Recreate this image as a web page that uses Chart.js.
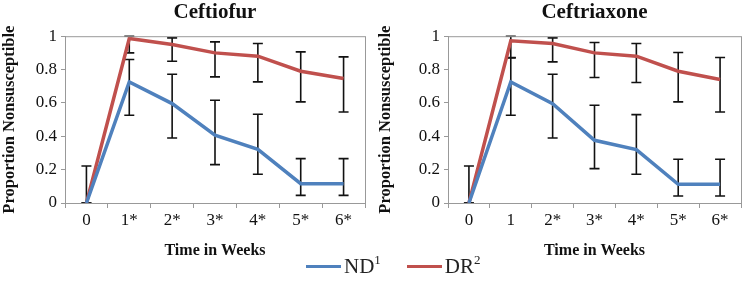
<!DOCTYPE html>
<html>
<head>
<meta charset="utf-8">
<script src="https://cdn.jsdelivr.net/npm/chart.js@4.4.0/dist/chart.umd.min.js"></script>
<style>
  body { margin: 0; background: #fff; width: 752px; height: 294px; overflow: hidden; position: relative; }
  canvas { position: absolute; top: 0; }
  #c1 { left: 0; }
  #c2 { left: 376px; }
  #legend { position: absolute; left: 306px; top: 254px; display: flex; align-items: center;
            font-family: 'Liberation Serif', 'Times New Roman', serif; font-size: 21px; color: #222; }
  #legend .item { display: flex; align-items: center; margin-right: 26px; }
  #legend .swatch { width: 35px; height: 3px; margin-right: 3px; }
  #legend sup { font-size: 13px; vertical-align: 9px; line-height: 0; }
</style>
</head>
<body>
<canvas id="c1" width="376" height="260"></canvas>
<canvas id="c2" width="376" height="260"></canvas>
<div id="legend"></div>
<script>
// Ceftiofur
const weeksA = ['0', '1*', '2*', '3*', '4*', '5*', '6*'];
const ndA = [0, 0.726, 0.596, 0.406, 0.322, 0.116, 0.116];
const ndA_lo = [0, 0.526, 0.39, 0.23, 0.172, 0.046, 0.046];
const ndA_hi = [0.222, 0.86, 0.772, 0.616, 0.532, 0.266, 0.266];
const drA = [0, 0.986, 0.95, 0.90, 0.88, 0.79, 0.746];
const drA_lo = [0, 0.90, 0.85, 0.756, 0.726, 0.606, 0.546];
const drA_hi = [0, 1.0, 0.99, 0.966, 0.956, 0.906, 0.876];

// Ceftriaxone
const weeksB = ['0', '1', '2*', '3*', '4*', '5*', '6*'];
const ndB = [0, 0.726, 0.596, 0.376, 0.32, 0.112, 0.112];
const ndB_lo = [0, 0.526, 0.39, 0.206, 0.172, 0.042, 0.042];
const ndB_hi = [0.222, 0.87, 0.772, 0.586, 0.53, 0.262, 0.262];
const drB = [0, 0.972, 0.956, 0.90, 0.88, 0.79, 0.74];
const drB_lo = [0, 0.872, 0.846, 0.752, 0.722, 0.606, 0.546];
const drB_hi = [0, 1.0, 0.99, 0.962, 0.956, 0.902, 0.872];

const seriesNames = ['ND', 'DR'];
const seriesSup = ['1', '2'];
const colors = ['#4F81BD', '#C0504D'];

const serif = "'Liberation Serif', 'Times New Roman', serif";

// foutbalken onder de lijnen tekenen
const errorBars = {
  id: 'errorBars',
  beforeDatasetsDraw(chart) {
    const ctx = chart.ctx;
    const y = chart.scales.y;
    ctx.save();
    ctx.strokeStyle = '#111';
    ctx.lineWidth = 1.6;
    chart.data.datasets.forEach((ds, i) => {
      const meta = chart.getDatasetMeta(i);
      meta.data.forEach((pt, j) => {
        const top = y.getPixelForValue(ds.hi[j]);
        const bot = y.getPixelForValue(ds.lo[j]);
        ctx.beginPath();
        ctx.moveTo(pt.x, top); ctx.lineTo(pt.x, bot);
        ctx.moveTo(pt.x - 5, top); ctx.lineTo(pt.x + 5, top);
        ctx.moveTo(pt.x - 5, bot); ctx.lineTo(pt.x + 5, bot);
        ctx.stroke();
      });
    });
    ctx.restore();
  }
};

// rand om het plotgebied
const boxBorder = {
  id: 'boxBorder',
  afterDraw(chart) {
    const a = chart.chartArea;
    const ctx = chart.ctx;
    ctx.save();
    ctx.strokeStyle = '#999';
    ctx.lineWidth = 1;
    ctx.strokeRect(a.left + 0.5, a.top + 0.5, a.right - a.left, a.bottom - a.top);
    ctx.restore();
  }
};

function makeChart(id, title, labels, nd, ndLo, ndHi, dr, drLo, drHi) {
  new Chart(document.getElementById(id), {
    type: 'line',
    data: {
      labels: labels,
      datasets: [
        { label: seriesNames[0], data: nd, lo: ndLo, hi: ndHi, borderColor: colors[0],
          borderWidth: 3.5, pointRadius: 0, tension: 0 },
        { label: seriesNames[1], data: dr, lo: drLo, hi: drHi, borderColor: colors[1],
          borderWidth: 3.5, pointRadius: 0, tension: 0 }
      ]
    },
    plugins: [errorBars, boxBorder],
    options: {
      responsive: false,
      animation: false,
      layout: { padding: { left: 0, right: 11, top: 0, bottom: 0 } },
      plugins: {
        legend: { display: false },
        tooltip: { enabled: false },
        title: {
          display: true, text: title, fullSize: false, color: '#111',
          font: { family: serif, size: 21, weight: 'bold' },
          padding: { top: 0, bottom: 11 }
        }
      },
      scales: {
        x: {
          offset: true,
          grid: { display: true, offset: true, drawOnChartArea: false, tickLength: 5, color: '#999' },
          border: { color: '#999' },
          ticks: { color: '#111', font: { family: serif, size: 17 }, padding: 2 },
          title: { display: true, text: 'Time in Weeks', color: '#111',
                   font: { family: serif, size: 16, weight: 'bold' }, padding: { top: 2, bottom: 0 } },
          afterFit(s) { s.height = 57; }
        },
        y: {
          min: 0, max: 1,
          ticks: { stepSize: 0.2, color: '#111', font: { family: serif, size: 17 }, padding: 4,
                   callback: v => String(Number(v.toFixed(1))) },
          grid: { display: true, drawOnChartArea: false, tickLength: 4, color: '#999' },
          border: { color: '#999' },
          title: { display: true, text: 'Proportion Nonsusceptible', color: '#111',
                   font: { family: serif, size: 16.5, weight: 'bold' }, padding: 0 },
          afterFit(s) { s.width = id === 'c1' ? 65 : 72; }
        }
      }
    }
  });
}

makeChart('c1', 'Ceftiofur', weeksA, ndA, ndA_lo, ndA_hi, drA, drA_lo, drA_hi);
makeChart('c2', 'Ceftriaxone', weeksB, ndB, ndB_lo, ndB_hi, drB, drB_lo, drB_hi);

// legenda met superscript
const legend = document.getElementById('legend');
seriesNames.forEach((name, i) => {
  const item = document.createElement('div');
  item.className = 'item';
  item.innerHTML = '<span class="swatch" style="background:' + colors[i] + '"></span>' +
    '<span>' + name + '<sup>' + seriesSup[i] + '</sup></span>';
  legend.appendChild(item);
});
</script>
</body>
</html>
